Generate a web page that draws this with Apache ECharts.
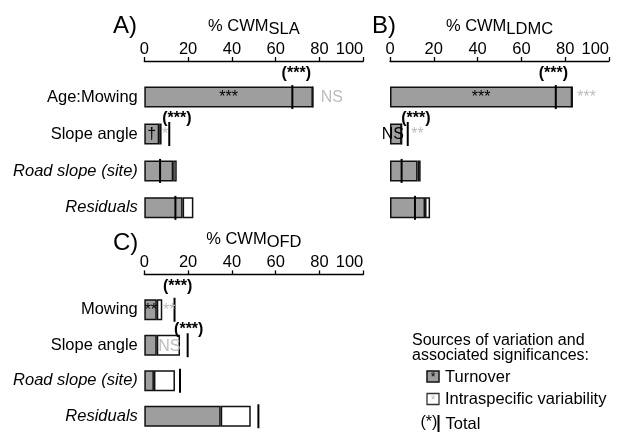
<!DOCTYPE html>
<html><head><meta charset="utf-8">
<script src="https://cdn.jsdelivr.net/npm/echarts@6/dist/echarts.min.js"></script>
<style>html,body{margin:0;padding:0;background:#fff}#c{width:619px;height:434px}</style>
</head><body><div id="c"></div>
<script>
// ---------- data ----------
const tickValues = [0, 20, 40, 60, 80, 100];
const catsA = ['Age:Mowing', 'Slope angle', 'Road slope (site)', 'Residuals'];
const catsC = ['Mowing', 'Slope angle', 'Road slope (site)', 'Residuals'];
const italicCats = ['Road slope (site)', 'Residuals'];

// Panel A: % CWM SLA
const turnA  = [77.0, 6.8, 13.2, 17.5];
const intraA = [0, 1.1, 1.6, 4.9];
const totalA = [67.6, 11.4, 7.2, 14.2];
// Panel B: % CWM LDMC
const turnB  = [83.2, 5.3, 12.6, 16.0];
const intraB = [0, 0, 1.4, 2.3];
const totalB = [75.7, 8.1, 5.3, 11.4];
// Panel C: % CWM OFD
const turnC  = [5.7, 5.7, 4.4, 34.9];
const intraC = [2.5, 10.6, 9.6, 13.7];
const totalC = [13.8, 19.8, 16.3, 52.1];

// significance annotations (text) and where they sit along the value axis
const sigTurnA  = ['***', '\u2020', '', ''];
const sigTurnAtA = [38.5, 3.4, 0, 0];
const sigIntraA = ['NS', '*', '', ''];
const sigIntraAtA = [85.6, 9.5, 0, 0];
const sigTotalA = ['(***)', '(***)', '', ''];
const sigTotalAtA = [69.4, 14.9, 0, 0];

const sigTurnB  = ['***', 'NS', '', ''];
const sigTurnAtB = [41.6, 1.3, 0, 0];
const sigIntraB = ['***', '**', '', ''];
const sigIntraAtB = [89.8, 12.6, 0, 0];
const sigTotalB = ['(***)', '(***)', '', ''];
const sigTotalAtB = [74.6, 11.8, 0, 0];

const sigTurnC  = ['**', '', '', ''];
const sigTurnAtC = [3.0, 0, 0, 0];
const sigIntraC = ['**', 'NS', '', ''];
const sigIntraAtC = [11.4, 11.4, 0, 0];
const sigTotalC = ['(***)', '(***)', '', ''];
const sigTotalAtC = [15.2, 20.3, 0, 0];

// ---------- chart ----------
const FONT = "'Liberation Sans', Arial, Helvetica, sans-serif";
const GRAY = '#9e9e9e';
const LIGHT = '#bdbdbd';
const AXIS_OFFSET = 17.6;

const chart = echarts.init(document.getElementById('c'), null, {renderer: 'canvas'});

const panels = [
  {cats: catsA, turn: turnA, intra: intraA, total: totalA,
   sT: sigTurnA, sTx: sigTurnAtA, sI: sigIntraA, sIx: sigIntraAtA, sO: sigTotalA, sOx: sigTotalAtA,
   grid: {left: 144.3, top: 78.6, width: 219, height: 147.7}, showLabels: true, sub: 'SLA',
   letter: 'A)', letterX: 113, letterDy: -47},
  {cats: catsA, turn: turnB, intra: intraB, total: totalB,
   sT: sigTurnB, sTx: sigTurnAtB, sI: sigIntraB, sIx: sigIntraAtB, sO: sigTotalB, sOx: sigTotalAtB,
   grid: {left: 390, top: 78.6, width: 219, height: 147.7}, showLabels: false, sub: 'LDMC',
   letter: 'B)', letterX: 372, letterDy: -47},
  {cats: catsC, turn: turnC, intra: intraC, total: totalC,
   sT: sigTurnC, sTx: sigTurnAtC, sI: sigIntraC, sIx: sigIntraAtC, sO: sigTotalC, sOx: sigTotalAtC,
   grid: {left: 144.3, top: 292, width: 219, height: 148}, showLabels: true, sub: 'OFD',
   letter: 'C)', letterX: 113, letterDy: -43}
];

const grids = [], xAxes = [], yAxes = [], series = [], graphics = [];

panels.forEach((p, i) => {
  grids.push(Object.assign({containLabel: false}, p.grid));
  xAxes.push({
    gridIndex: i, type: 'value', position: 'top', offset: AXIS_OFFSET,
    min: tickValues[0], max: tickValues[tickValues.length - 1],
    interval: tickValues[1] - tickValues[0],
    splitLine: {show: false},
    axisLine: {show: true, lineStyle: {color: '#000', width: 1.3}},
    axisTick: {show: true, length: 4, lineStyle: {color: '#000', width: 1.3}},
    axisLabel: {fontFamily: FONT, fontSize: 16.5, color: '#000', margin: 3, alignMaxLabel: 'right'}
  });
  yAxes.push({
    gridIndex: i, type: 'category', data: p.cats, inverse: true,
    axisLine: {show: false}, axisTick: {show: false}, splitLine: {show: false},
    axisLabel: {
      show: p.showLabels, margin: 6.5,
      formatter: v => italicCats.includes(v) ? '{i|' + v + '}' : '{n|' + v + '}',
      rich: {
        n: {fontFamily: FONT, fontSize: 16.5, color: '#000'},
        i: {fontFamily: FONT, fontSize: 16.5, color: '#000', fontStyle: 'italic'}
      }
    }
  });
  const stack = 's' + i;
  series.push({
    type: 'bar', xAxisIndex: i, yAxisIndex: i, stack, data: p.turn, barWidth: 21,
    itemStyle: {color: GRAY, borderColor: '#111', borderWidth: 1.5}, silent: true, z: 2
  });
  series.push({
    type: 'bar', xAxisIndex: i, yAxisIndex: i, stack, data: p.intra, barWidth: 21,
    itemStyle: {color: '#fff', borderColor: '#111', borderWidth: 1.5}, silent: true, z: 2
  });
  // total lines
  series.push({
    type: 'custom', xAxisIndex: i, yAxisIndex: i, z: 5, silent: true,
    data: p.total.map((v, k) => [v, k]),
    renderItem: (params, api) => {
      const pt = api.coord([api.value(0), api.value(1)]);
      return {type: 'line', shape: {x1: pt[0], y1: pt[1] - 12, x2: pt[0], y2: pt[1] + 12},
              style: {stroke: '#000', lineWidth: 2}};
    }
  });
  // significance texts
  const ann = [];
  p.cats.forEach((c, k) => {
    if (p.sT[k]) ann.push([p.sTx[k], k, 't', p.sT[k]]);
    if (p.sI[k]) ann.push([p.sIx[k], k, 'i', p.sI[k]]);
    if (p.sO[k]) ann.push([p.sOx[k], k, 'o', p.sO[k]]);
  });
  series.push({
    type: 'custom', xAxisIndex: i, yAxisIndex: i, z: 6, silent: true,
    data: ann.map(a => [a[0], a[1]]),
    renderItem: (params, api) => {
      const a = ann[params.dataIndex];
      const pt = api.coord([api.value(0), api.value(1)]);
      const kind = a[2];
      const dy = kind === 'o' ? (a[1] === 0 ? -23.5 : -15.5) : 1;
      return {
        type: 'text', x: pt[0], y: pt[1] + dy,
        style: {
          text: a[3], fontFamily: FONT, fontSize: 16,
          fontWeight: kind === 'o' ? 'bold' : 'normal',
          fill: kind === 'i' ? LIGHT : '#000',
          align: 'center', verticalAlign: 'middle'
        }
      };
    }
  });
  // panel title with subscript
  const cx = p.grid.left + p.grid.width / 2;
  const axisY = p.grid.top - AXIS_OFFSET;
  graphics.push({
    type: 'text', x: cx, y: axisY - 43,
    style: {
      text: '{m|% CWM}{s|' + p.sub + '}',
      align: 'center', verticalAlign: 'top',
      rich: {
        m: {fontFamily: FONT, fontSize: 16.5, color: '#000', verticalAlign: 'top', lineHeight: 18},
        s: {fontFamily: FONT, fontSize: 16.5, color: '#000', verticalAlign: 'top', lineHeight: 18, padding: [3, 0, 0, 0]}
      }
    }
  });
  graphics.push({
    type: 'text', x: p.letterX, y: axisY + p.letterDy,
    style: {text: p.letter, fontFamily: FONT, fontSize: 24, fill: '#000', align: 'left', verticalAlign: 'top'}
  });
});

// legend (drawn as graphics)
const legT = (t, x, y, extra) => Object.assign({
  type: 'text', x, y,
  style: Object.assign({text: t, fontFamily: FONT, fontSize: 16, fill: '#000', align: 'left', verticalAlign: 'middle'}, extra || {})
});
graphics.push(legT('Sources of variation and', 412, 341));
graphics.push(legT('associated significances:', 412, 356));
graphics.push({type: 'rect', shape: {x: 427, y: 371, width: 12, height: 11}, style: {fill: GRAY, stroke: '#111', lineWidth: 1.5}});
graphics.push(legT('*', 433, 378, {align: 'center', fontSize: 12}));
graphics.push(legT('Turnover', 445, 377, {fontSize: 16.5}));
graphics.push({type: 'rect', shape: {x: 427, y: 393.5, width: 12, height: 11}, style: {fill: '#fff', stroke: '#333', lineWidth: 1.3}});
graphics.push(legT('*', 433, 400.5, {align: 'center', fontSize: 12, fill: LIGHT}));
graphics.push(legT('Intraspecific variability', 445, 399.5, {fontSize: 16.5}));
graphics.push(legT('(*)', 420.5, 423));
graphics.push({type: 'line', shape: {x1: 438.5, y1: 415, x2: 438.5, y2: 432}, style: {stroke: '#000', lineWidth: 2}});
graphics.push(legT('Total', 445.5, 424, {fontSize: 16.5}));

chart.setOption({
  animation: false,
  backgroundColor: '#fff',
  grid: grids, xAxis: xAxes, yAxis: yAxes, series,
  graphic: {elements: graphics}
});
</script>
</body></html>
